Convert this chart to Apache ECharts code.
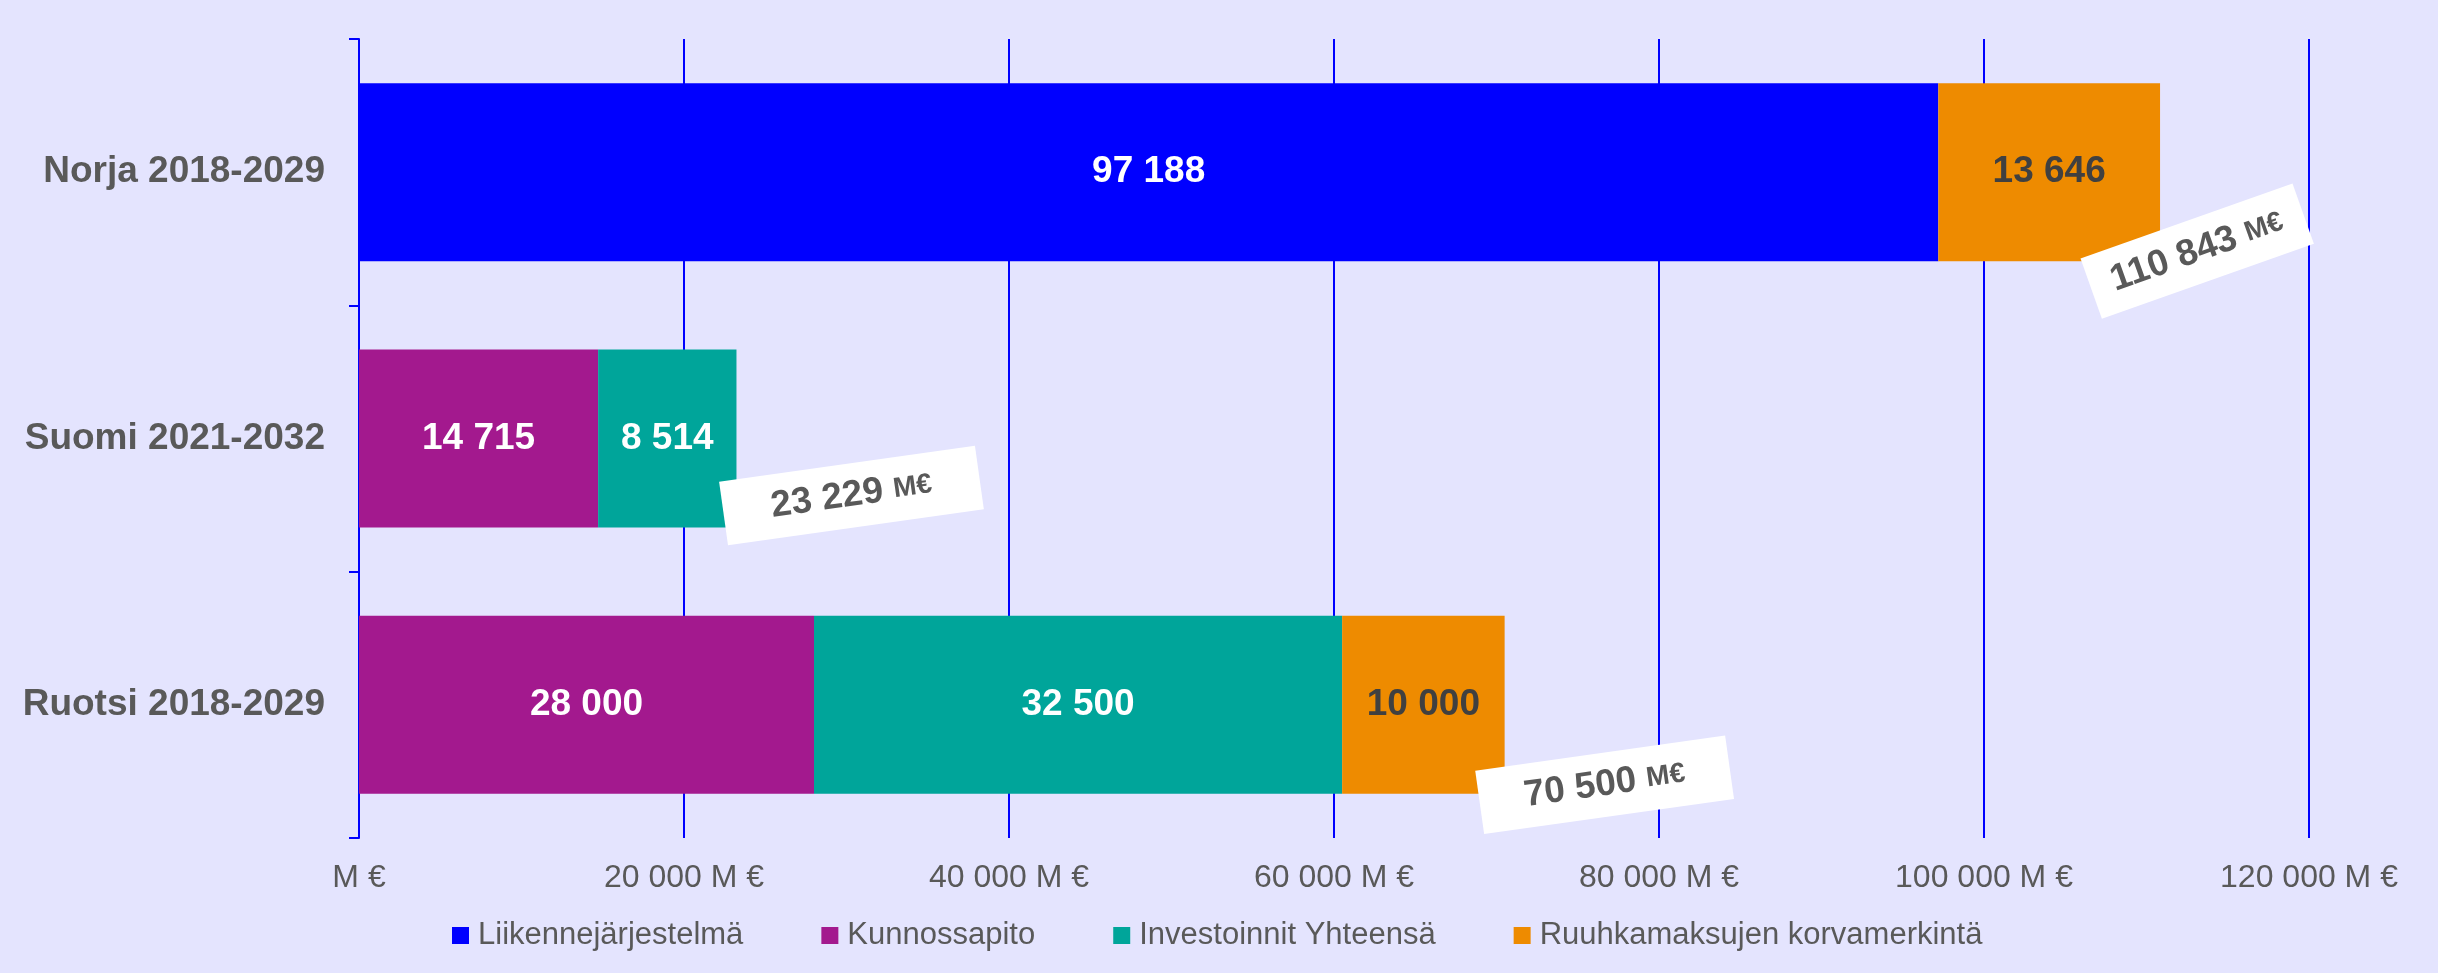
<!DOCTYPE html>
<html>
<head>
<meta charset="utf-8">
<title>Liikenneinvestoinnit</title>
<script src="https://cdn.jsdelivr.net/npm/echarts@6/dist/echarts.min.js"></script>
<style>
    html, body { margin: 0; padding: 0; background: #E4E4FE; }
    #chart { width: 2438px; height: 973px; }
</style>
</head>
<body>
<div id="chart"></div>
<script>
// arvot luettu kuvasta, M€
var categories = ['Norja 2018-2029', 'Suomi 2021-2032', 'Ruotsi 2018-2029'];
var liikennejarjestelma = [97188, null, null];
var kunnossapito = [null, 14715, 28000];
var investoinnit = [null, 8514, 32500];
var ruuhkamaksut = [13646, null, 10000];
var totals = [110843, 23229, 70500];

var xTicks = { min: 0, max: 120000, interval: 20000 };

// yhteensä-laatikoiden sijainti ja kierto
var totalBoxes = [
    { rotate: 19.5, dx: 37, dy: 79, padding: [11, 22] },
    { rotate: 8, dx: 115, dy: 57, padding: [11, 48] },
    { rotate: 8, dx: 100, dy: 80, padding: [11, 45] }
];

var FONT = "'Liberation Sans', Arial, sans-serif";
var GREY = '#595959';

var TransportChart = {
    fmt: function (v) {
        return String(v).replace(/\B(?=(\d{3})+(?!\d))/g, ' ');
    },

    barSeries: function (name, values, color, labelColor) {
        return {
            name: name,
            type: 'bar',
            stack: 'total',
            barWidth: 178,
            data: values,
            itemStyle: { color: color },
            label: {
                show: true,
                position: 'inside',
                color: labelColor,
                fontFamily: FONT,
                fontWeight: 'bold',
                fontSize: 37,
                formatter: function (p) {
                    return TransportChart.fmt(p.value);
                }
            }
        };
    },

    totalSeries: function () {
        var data = totals.map(function (t, i) {
            var box = totalBoxes[i];
            var a = box.rotate * Math.PI / 180;
            var c = Math.cos(a), s = Math.sin(a);
            return {
                value: [t, categories[i]],
                label: {
                    rotate: box.rotate,
                    padding: box.padding,
                    offset: [c * box.dx - s * box.dy, s * box.dx + c * box.dy]
                }
            };
        });
        return {
            name: 'Yhteensä',
            type: 'scatter',
            symbolSize: 1,
            itemStyle: { color: 'rgba(0,0,0,0)', opacity: 1 },
            silent: true,
            z: 5,
            data: data,
            label: {
                show: true,
                position: 'inside',
                backgroundColor: '#FFFFFF',
                color: GREY,
                fontFamily: FONT,
                fontWeight: 'bold',
                fontSize: 37,
                formatter: function (p) {
                    return '{n|' + TransportChart.fmt(p.value[0]) + ' }{u|M€}';
                },
                rich: {
                    n: { fontSize: 37, lineHeight: 42, fontWeight: 'bold', color: GREY, fontFamily: FONT },
                    u: { fontSize: 28, lineHeight: 42, fontWeight: 'bold', color: GREY, fontFamily: FONT }
                }
            }
        };
    },

    init: function () {
        var myChart = echarts.init(document.getElementById('chart'));
        var option = {
            backgroundColor: '#E4E4FE',
            animation: false,
            grid: { left: 359, right: 129, top: 39, bottom: 135, containLabel: false },
            legend: {
                left: 447,
                top: 915,
                icon: 'rect',
                itemWidth: 17,
                itemHeight: 17,
                itemGap: 78,
                textStyle: { color: GREY, fontFamily: FONT, fontSize: 31, padding: [0, 0, 0, 4] },
                data: ['Liikennejärjestelmä', 'Kunnossapito', 'Investoinnit Yhteensä', 'Ruuhkamaksujen korvamerkintä']
            },
            xAxis: {
                type: 'value',
                min: xTicks.min,
                max: xTicks.max,
                interval: xTicks.interval,
                axisLine: { show: false },
                axisTick: { show: false },
                splitLine: { show: true, lineStyle: { color: '#0000FF', width: 2 } },
                axisLabel: {
                    color: GREY,
                    fontFamily: FONT,
                    fontSize: 32,
                    margin: 24,
                    formatter: function (v) {
                        return v === 0 ? 'M €' : TransportChart.fmt(v) + ' M €';
                    }
                }
            },
            yAxis: {
                type: 'category',
                inverse: true,
                data: categories,
                axisLine: { show: true, lineStyle: { color: '#0000FF', width: 2 } },
                axisTick: { show: true, length: 10, lineStyle: { color: '#0000FF', width: 2 } },
                axisLabel: {
                    color: GREY,
                    fontFamily: FONT,
                    fontWeight: 'bold',
                    fontSize: 37,
                    margin: 34
                }
            },
            series: [
                this.barSeries('Liikennejärjestelmä', liikennejarjestelma, '#0000FF', '#FFFFFF'),
                this.barSeries('Kunnossapito', kunnossapito, '#A3198E', '#FFFFFF'),
                this.barSeries('Investoinnit Yhteensä', investoinnit, '#00A59A', '#FFFFFF'),
                this.barSeries('Ruuhkamaksujen korvamerkintä', ruuhkamaksut, '#EE8B00', '#404040'),
                this.totalSeries()
            ]
        };
        myChart.setOption(option);
    }
};

TransportChart.init();
</script>
</body>
</html>
